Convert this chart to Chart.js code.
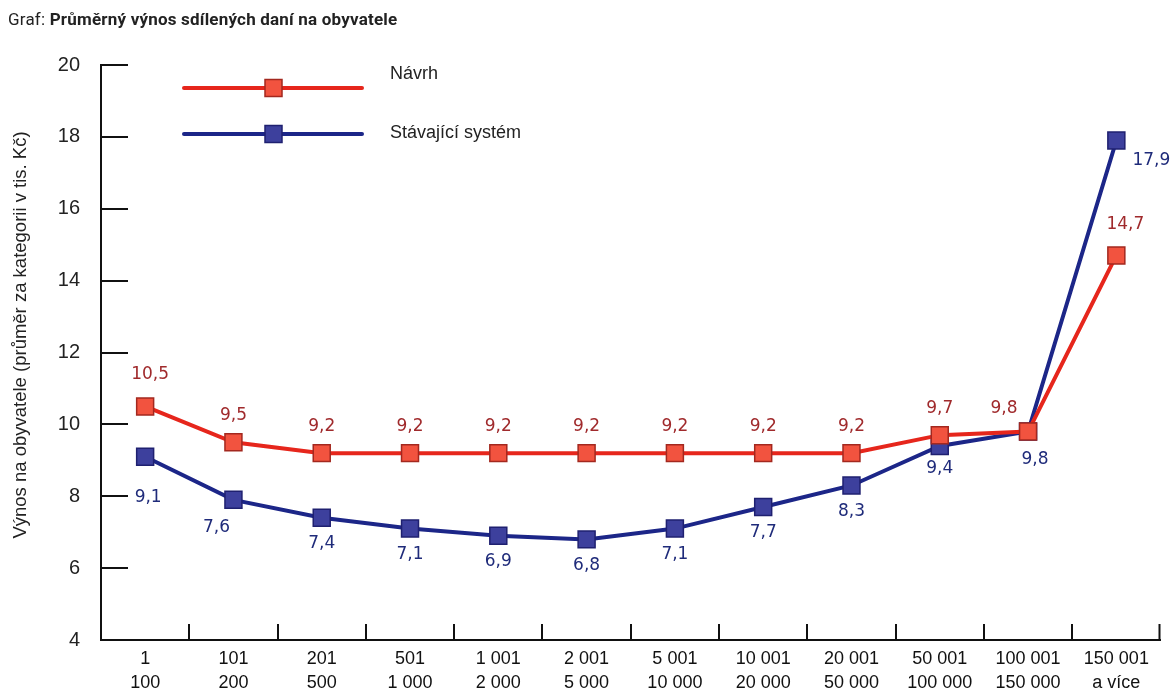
<!DOCTYPE html>
<html>
<head>
<meta charset="utf-8">
<script src="https://cdn.jsdelivr.net/npm/chart.js@4.4.1/dist/chart.umd.min.js"></script>
<style>
  body { margin: 0; background: #fff; }
  #wrap { position: relative; width: 1174px; height: 692px; }
  #title { position: absolute; left: 8px; top: 9px; font: 17px Roboto, "Liberation Sans", sans-serif; letter-spacing: 0.2px; color: #222; line-height: 20px; }
  #title b { font-weight: bold; }
</style>
</head>
<body>
<div id="wrap">
  <div id="title">Graf: <b>Průměrný výnos sdílených daní na obyvatele</b></div>
  <canvas id="myChart" width="1174" height="692"></canvas>
</div>
<script>
// kategorie obcí podle počtu obyvatel
var categories = [
    ['1', '100'], ['101', '200'], ['201', '500'], ['501', '1 000'],
    ['1 001', '2 000'], ['2 001', '5 000'], ['5 001', '10 000'], ['10 001', '20 000'],
    ['20 001', '50 000'], ['50 001', '100 000'], ['100 001', '150 000'], ['150 001', 'a více']
];
var navrh = [10.5, 9.5, 9.2, 9.2, 9.2, 9.2, 9.2, 9.2, 9.2, 9.7, 9.8, 14.7];
var stavajici = [9.1, 7.9, 7.4, 7.1, 6.9, 6.8, 7.1, 7.7, 8.3, 9.4, 9.8, 17.9];
// popisky tak, jak jsou v grafu vytištěné
var navrhLabels = ['10,5', '9,5', '9,2', '9,2', '9,2', '9,2', '9,2', '9,2', '9,2', '9,7', '9,8', '14,7'];
var stavajiciLabels = ['9,1', '7,6', '7,4', '7,1', '6,9', '6,8', '7,1', '7,7', '8,3', '9,4', '9,8', '17,9'];
var yMin = 4, yMax = 20, yStep = 2;
var yTitle = 'Výnos na obyvatele (průměr za kategorii v tis. Kč)';

var redLine = '#e6261c', redFill = '#f2533f', redEdge = '#a3281f', redText = '#a02a2c';
var blueLine = '#1c2688', blueFill = '#3d409d', blueEdge = '#1f2070', blueText = '#1f2b7a';

// posun popisků vůči bodu [dx, dy]
function labelOffset(ds, i) {
    if (ds === 0) {
        if (i === 0) return [5, -32];
        if (i === 10) return [-24, -23];
        if (i === 11) return [9, -31];
        return [0, -27];
    }
    if (i === 0) return [3, 41];
    if (i === 1) return [-17, 28];
    if (i === 9) return [0, 23];
    if (i === 10) return [7, 28];
    if (i === 11) return [35, 20];
    return [0, 26];
}

var axisTicks = {
    id: 'axisTicks',
    beforeDatasetsDraw: function (chart) {
        var c = chart.ctx, a = chart.chartArea;
        var xs = chart.scales.x, ys = chart.scales.y;
        c.save();
        c.strokeStyle = '#111';
        c.lineWidth = 2;
        c.beginPath();
        ys.ticks.forEach(function (t) {
            var y = Math.round(ys.getPixelForValue(t.value));
            c.moveTo(a.left, y);
            c.lineTo(a.left + 27, y);
        });
        for (var i = 1; i <= categories.length; i++) {
            var x = i < categories.length
                ? Math.round((xs.getPixelForValue(i - 1) + xs.getPixelForValue(i)) / 2)
                : a.right - 1;
            c.moveTo(x, a.bottom);
            c.lineTo(x, a.bottom - 16);
        }
        c.stroke();
        // popis osy y
        c.translate(21, 335);
        c.rotate(-Math.PI / 2);
        c.fillStyle = '#222';
        c.font = '18.5px "Liberation Sans", Arial, sans-serif';
        c.textAlign = 'center';
        c.textBaseline = 'middle';
        c.fillText(yTitle, 0, 0);
        c.restore();
    }
};

var pointLabels = {
    id: 'pointLabels',
    afterDatasetsDraw: function (chart) {
        var c = chart.ctx;
        c.save();
        c.font = '17px "DejaVu Sans", Verdana, sans-serif';
        c.textAlign = 'center';
        c.textBaseline = 'middle';
        chart.data.datasets.forEach(function (ds, d) {
            var meta = chart.getDatasetMeta(d);
            c.fillStyle = d === 0 ? redText : blueText;
            meta.data.forEach(function (el, i) {
                var off = labelOffset(d, i);
                c.fillText(ds.printed[i], el.x + off[0], el.y + off[1]);
            });
        });
        c.restore();
    }
};

var innerLegend = {
    id: 'innerLegend',
    afterDatasetsDraw: function (chart) {
        var c = chart.ctx, a = chart.chartArea;
        var rows = [{ y: a.top + 23, ty: a.top + 9 }, { y: a.top + 69, ty: a.top + 68 }];
        c.save();
        chart.data.datasets.forEach(function (ds, d) {
            var r = rows[d];
            c.strokeStyle = ds.borderColor;
            c.lineWidth = 4;
            c.lineCap = 'round';
            c.beginPath();
            c.moveTo(a.left + 83, r.y);
            c.lineTo(a.left + 261, r.y);
            c.stroke();
            c.fillStyle = ds.pointBackgroundColor;
            c.strokeStyle = ds.pointBorderColor;
            c.lineWidth = 1.5;
            c.fillRect(a.left + 164, r.y - 8.5, 17, 17);
            c.strokeRect(a.left + 164, r.y - 8.5, 17, 17);
            c.fillStyle = '#222';
            c.font = '18px "Liberation Sans", Arial, sans-serif';
            c.textAlign = 'left';
            c.textBaseline = 'middle';
            c.fillText(ds.label, a.left + 289, r.ty);
        });
        c.restore();
    }
};

var ctx = document.getElementById('myChart');
var myChart = new Chart(ctx, {
    type: 'line',
    data: {
        labels: categories,
        datasets: [{
            label: 'Návrh',
            data: navrh,
            printed: navrhLabels,
            borderColor: redLine,
            borderWidth: 4,
            pointStyle: 'rect',
            pointRadius: 12,
            pointBackgroundColor: redFill,
            pointBorderColor: redEdge,
            pointBorderWidth: 1.5,
            tension: 0
        },
        {
            label: 'Stávající systém',
            data: stavajici,
            printed: stavajiciLabels,
            borderColor: blueLine,
            borderWidth: 4,
            pointStyle: 'rect',
            pointRadius: 12,
            pointBackgroundColor: blueFill,
            pointBorderColor: blueEdge,
            pointBorderWidth: 1.5,
            tension: 0
        }]
    },
    options: {
        responsive: false,
        animation: false,
        devicePixelRatio: 1,
        layout: { padding: { top: 65, right: 11, left: 0, bottom: 0 } },
        plugins: {
            legend: { display: false },
            tooltip: { enabled: false }
        },
        scales: {
            x: {
                offset: true,
                grid: { display: false, drawTicks: false },
                border: { display: true, color: '#111', width: 2 },
                ticks: {
                    color: '#111',
                    padding: 8,
                    maxRotation: 0,
                    autoSkip: false,
                    font: { family: '"Liberation Sans Narrow", "Liberation Sans", sans-serif', size: 18, lineHeight: 1.28 }
                },
                afterFit: function (s) { s.height = 52; }
            },
            y: {
                min: yMin,
                max: yMax,
                grid: { display: false, drawTicks: false },
                border: { display: true, color: '#111', width: 2 },
                ticks: {
                    stepSize: yStep,
                    color: '#222',
                    padding: 21,
                    font: { family: '"Liberation Sans", Arial, sans-serif', size: 20 }
                },
                afterFit: function (s) { s.width = 101; }
            }
        }
    },
    plugins: [axisTicks, pointLabels, innerLegend]
});
</script>
</body>
</html>
